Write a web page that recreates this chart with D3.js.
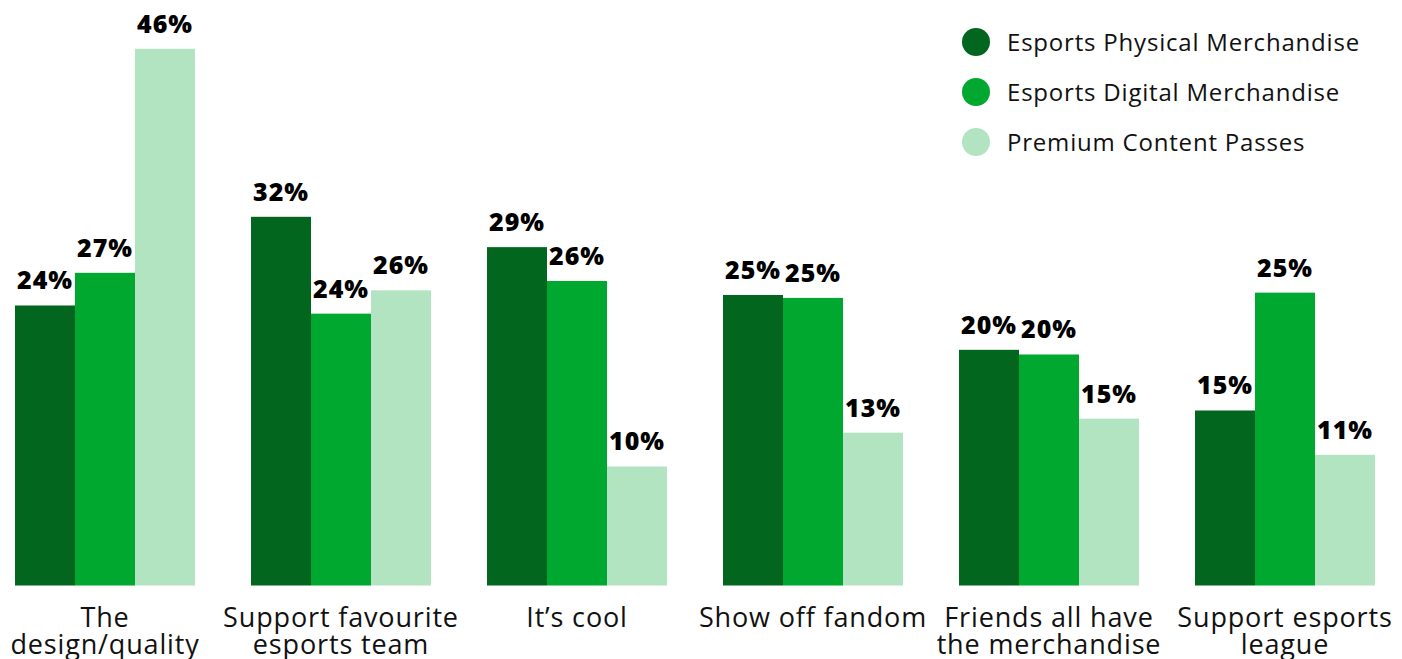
<!DOCTYPE html>
<html>
<head>
<meta charset="utf-8">
<script src="https://cdn.jsdelivr.net/npm/d3@7"></script>
<style>
  html, body { margin: 0; padding: 0; background: #ffffff; overflow: hidden; }
  svg { display: block; }
</style>
</head>
<body>
<svg id="chart" width="1402" height="659"></svg>
<script>
const categories = [
  ["The", "design/quality"],
  ["Support favourite", "esports team"],
  ["It\u2019s cool"],
  ["Show off fandom"],
  ["Friends all have", "the merchandise"],
  ["Support esports", "league"]
];
const seriesNames = ["Esports Physical Merchandise", "Esports Digital Merchandise", "Premium Content Passes"];
const physical = [24.0, 31.6, 29.0, 24.9, 20.2, 15.0];
const digital  = [26.8, 23.3, 26.1, 24.65, 19.8, 25.1];
const premium  = [46.0, 25.3, 10.2, 13.1, 14.3, 11.2];
const physicalLabels = ["24%", "32%", "29%", "25%", "20%", "15%"];
const digitalLabels  = ["27%", "24%", "26%", "25%", "20%", "25%"];
const premiumLabels  = ["46%", "26%", "10%", "13%", "15%", "11%"];
const colors = ["#02661F", "#00A82F", "#B3E4C2"];

const series = [
  { name: seriesNames[0], values: physical, labels: physicalLabels, color: colors[0] },
  { name: seriesNames[1], values: digital,  labels: digitalLabels,  color: colors[1] },
  { name: seriesNames[2], values: premium,  labels: premiumLabels,  color: colors[2] }
];

const svg = d3.select("#chart");
const catKeys = categories.map((c, i) => i);

const x0 = d3.scaleBand().domain(catKeys).range([15, 1375]).paddingInner(56 / 236).paddingOuter(0);
const x1 = d3.scaleBand().domain(d3.range(series.length)).range([0, x0.bandwidth()]).padding(0);
const y = d3.scaleLinear().domain([0, 46]).range([585.5, 48.8]);

const groups = svg.append("g").selectAll("g")
  .data(catKeys).join("g")
  .attr("transform", i => `translate(${x0(i)},0)`);

series.forEach((s, si) => {
  groups.append("rect")
    .attr("x", x1(si))
    .attr("width", x1.bandwidth())
    .attr("y", i => y(s.values[i]))
    .attr("height", i => y(0) - y(s.values[i]))
    .attr("fill", s.color);
});

series.forEach((s, si) => {
  groups.append("text")
    .attr("x", x1(si) + x1.bandwidth() / 2)
    .attr("y", i => y(s.values[i]) - 16)
    .attr("text-anchor", "middle")
    .attr("font-family", "'Open Sans', sans-serif")
    .attr("font-weight", 800)
    .attr("font-size", 25)
    .attr("letter-spacing", 1)
    .attr("fill", "#000")
    .text(i => s.labels[i]);
});

// category labels
const catLabel = groups.append("text")
  .attr("x", x0.bandwidth() / 2)
  .attr("text-anchor", "middle")
  .attr("font-family", "'Open Sans', sans-serif")
  .attr("font-size", 27)
  .attr("letter-spacing", 0.85)
  .attr("fill", "#111");
catLabel.selectAll("tspan")
  .data(i => categories[i])
  .join("tspan")
  .attr("x", x0.bandwidth() / 2)
  .attr("y", (d, j) => 627 + j * 27)
  .text(d => d);

// legend
const legend = svg.append("g").selectAll("g")
  .data(series).join("g")
  .attr("transform", (d, i) => `translate(976,${42 + i * 50})`);
legend.append("circle").attr("r", 14).attr("fill", d => d.color);
legend.append("text")
  .attr("x", 31)
  .attr("y", 8.5)
  .attr("font-family", "'Open Sans', sans-serif")
  .attr("font-size", 24)
  .attr("letter-spacing", 0.8)
  .attr("fill", "#111")
  .text(d => d.name);
</script>
</body>
</html>
